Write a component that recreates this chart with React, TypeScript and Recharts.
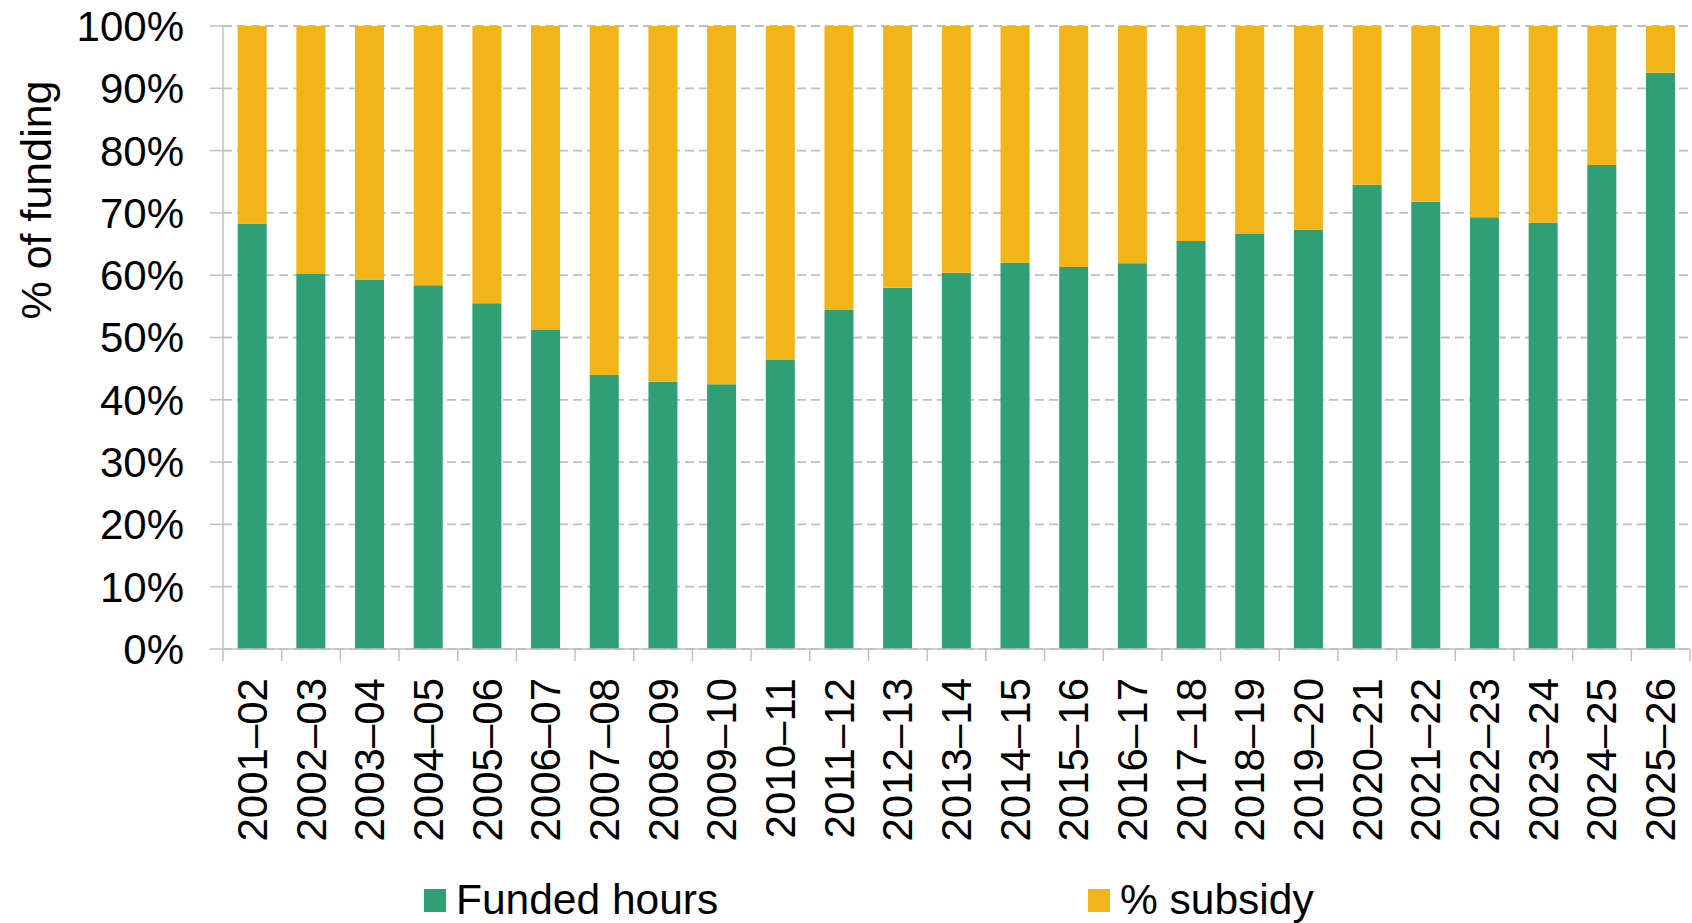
import React from "react";
import { BarChart, Bar, XAxis, YAxis, CartesianGrid, Legend } from "recharts";

// Share of funding: funded hours vs subsidy, by year
const categories = [
  "2001–02", "2002–03", "2003–04", "2004–05", "2005–06", "2006–07", "2007–08",
  "2008–09", "2009–10", "2010–11", "2011–12", "2012–13", "2013–14", "2014–15",
  "2015–16", "2016–17", "2017–18", "2018–19", "2019–20", "2020–21", "2021–22",
  "2022–23", "2023–24", "2024–25", "2025–26",
];
const fundedHours = [
  68.3, 60.2, 59.3, 58.4, 55.5, 51.2, 44.0, 42.9, 42.5, 46.4, 54.5, 58.0, 60.4,
  62.0, 61.3, 61.9, 65.5, 66.6, 67.3, 74.5, 71.8, 69.3, 68.4, 77.7, 92.5,
];
const subsidy = [
  31.7, 39.8, 40.7, 41.6, 44.5, 48.8, 56.0, 57.1, 57.5, 53.6, 45.5, 42.0, 39.6,
  38.0, 38.7, 38.1, 34.5, 33.4, 32.7, 25.5, 28.2, 30.7, 31.6, 22.3, 7.5,
];
const yTicks = [0, 10, 20, 30, 40, 50, 60, 70, 80, 90, 100];

const GREEN = "#2f9f76";
const YELLOW = "#f1b51a";
const GREY = "#c0c0c0";
const FONT = "'Liberation Sans', Arial, sans-serif";

const W = 1692;
const H = 923;
const M = { top: 26, right: 2, bottom: 0, left: 0 };
const Y_AXIS_W = 223;
const X_AXIS_H = 228;
const LEGEND_H = 46;

const data = categories.map((name, i) => ({
  name,
  funded: fundedHours[i],
  subsidy: subsidy[i],
}));

function XTick(props: any) {
  const { x, y, payload, index } = props;
  const half = payload?.offset ?? (W - Y_AXIS_W - M.right) / categories.length / 2;
  const axisY = y - 12 - 17;
  const left = x - half;
  return (
    <g>
      <line x1={left} y1={axisY} x2={left} y2={axisY + 12} stroke={GREY} strokeWidth={1.5} />
      {index === categories.length - 1 && (
        <line x1={x + half} y1={axisY} x2={x + half} y2={axisY + 12} stroke={GREY} strokeWidth={1.5} />
      )}
      <text
        x={x}
        y={y}
        transform={`rotate(-90, ${x}, ${y})`}
        textAnchor="end"
        dominantBaseline="central"
        fontSize={42}
        fontFamily={FONT}
        fill="#000"
      >
        {payload.value}
      </text>
    </g>
  );
}

function LegendBox() {
  const items = [
    { label: "Funded hours", color: GREEN, left: 424 },
    { label: "% subsidy", color: YELLOW, left: 1088 },
  ];
  return (
    <div style={{ position: "relative", width: W, height: LEGEND_H, fontFamily: FONT }}>
      {items.map((it) => (
        <div
          key={it.label}
          style={{
            position: "absolute",
            left: it.left,
            top: 0,
            height: LEGEND_H,
            display: "flex",
            alignItems: "center",
            whiteSpace: "nowrap",
          }}
        >
          <span style={{ width: 22, height: 23, background: it.color, marginRight: 10, display: "inline-block" }} />
          <span style={{ fontSize: 42.5, color: "#000", lineHeight: 1 }}>{it.label}</span>
        </div>
      ))}
    </div>
  );
}

export default function App() {
  return (
    <div style={{ position: "fixed", left: 0, top: 0, width: W, height: H, background: "#fff" }}>
      <BarChart width={W} height={H} data={data} margin={M} barCategoryGap="25%">
        <CartesianGrid vertical={false} stroke={GREY} strokeWidth={1.8} strokeDasharray="9 5" />
        <XAxis
          dataKey="name"
          interval={0}
          height={X_AXIS_H}
          tickLine={false}
          tickSize={12}
          tickMargin={17}
          axisLine={{ stroke: GREY, strokeWidth: 1.5 }}
          tick={<XTick />}
        />
        <YAxis
          width={Y_AXIS_W}
          domain={[0, 100]}
          ticks={yTicks}
          interval={0}
          tickFormatter={(v: number) => `${v}%`}
          tickSize={13}
          tickMargin={26}
          tickLine={{ stroke: GREY, strokeWidth: 1.5 }}
          axisLine={{ stroke: GREY, strokeWidth: 1.5 }}
          tick={{ fontSize: 42, fontFamily: FONT, fill: "#000" }}
          label={() => (
            <text
              x={36}
              y={200}
              transform="rotate(-90, 36, 200)"
              textAnchor="middle"
              dominantBaseline="central"
              fontSize={43}
              fontFamily={FONT}
              fill="#000"
            >
              % of funding
            </text>
          )}
        />
        <Legend verticalAlign="bottom" height={LEGEND_H} content={<LegendBox />} />
        <Bar dataKey="funded" name="Funded hours" stackId="a" fill={GREEN} isAnimationActive={false} />
        <Bar dataKey="subsidy" name="% subsidy" stackId="a" fill={YELLOW} isAnimationActive={false} />
      </BarChart>
    </div>
  );
}
